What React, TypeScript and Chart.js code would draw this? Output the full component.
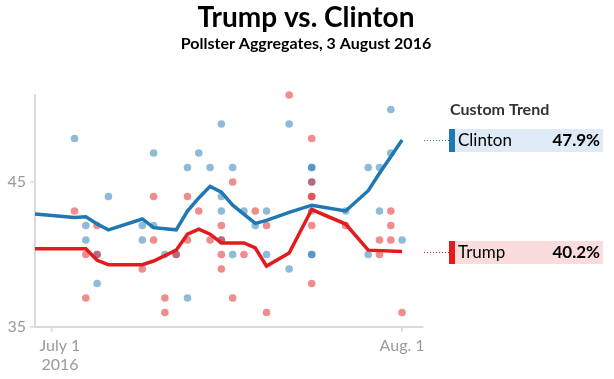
import React, { useEffect, useRef } from "react";
import { Chart, registerables } from "chart.js";

Chart.register(...registerables);

// Days are counted from July 1, 2016 (= 0)
const clintonPollDays = [2, 3, 3, 4, 4, 5, 8, 8, 9, 9, 10, 11, 12, 12, 13, 14, 15, 15, 15, 15, 16, 16, 17, 18, 19, 19, 21, 21, 23, 23, 23, 23, 23, 23, 26, 28, 28, 29, 29, 30, 30, 31];
const clintonPollValues = [48, 42, 41, 40, 38, 44, 42, 41, 47, 42, 40, 40, 46, 37, 47, 46, 49, 44, 43, 41, 46, 40, 43, 42, 43, 40, 49, 39, 46, 46, 45, 43, 40, 40, 43, 46, 40, 46, 43, 50, 47, 41];

const trumpPollDays = [2, 3, 3, 4, 4, 8, 9, 9, 10, 10, 11, 12, 12, 13, 14, 15, 15, 15, 15, 16, 16, 17, 18, 19, 19, 21, 23, 23, 23, 23, 23, 23, 26, 29, 29, 30, 30, 30, 31];
const trumpPollValues = [43, 40, 37, 42, 40, 39, 44, 41, 37, 36, 40, 44, 41, 43, 41, 42, 41, 40, 39, 45, 37, 40, 43, 42, 36, 51, 48, 45, 44, 44, 42, 38, 42, 41, 40, 43, 42, 41, 36];

const clintonTrendDays = [-1.5, 2, 3, 4, 5, 8, 9, 11, 12, 13, 14, 15, 16, 18, 19, 21, 23, 26, 28, 29, 31];
const clintonTrendValues = [42.8, 42.55, 42.6, 42.1, 41.7, 42.45, 41.85, 41.7, 43.0, 43.9, 44.7, 44.3, 43.4, 42.15, 42.35, 42.9, 43.4, 43.0, 44.4, 45.6, 47.9];

const trumpTrendDays = [-1.5, 3, 4, 5, 8, 9, 11, 12, 13, 14, 15, 17, 18, 19, 21, 23, 26, 28, 31];
const trumpTrendValues = [40.4, 40.4, 39.6, 39.3, 39.3, 39.55, 40.3, 41.4, 41.75, 41.4, 40.8, 40.8, 40.45, 39.2, 40.1, 43.1, 42.1, 40.3, 40.2];

const xTickDays = [0, 31];
const xTickLabels = [["July 1", "2016"], ["Aug. 1"]];
const yTickValues = [35, 45];

const titleText = "Trump vs. Clinton";
const subtitleText = "Pollster Aggregates, 3 August 2016";
const legendTitle = "Custom Trend";
const seriesNames = ["Clinton", "Trump"];

const BLUE = "#1f77b4";
const RED = "#e41a1c";
const BLUE_DOT = "rgba(31,119,180,0.5)";
const RED_DOT = "rgba(228,26,28,0.5)";
const BLUE_BG = "#deeaf5";
const RED_BG = "#fbdcdc";
const AXIS = "#dadada";
const TICK_TEXT = "#9c9a98";

const zip = (xs: number[], ys: number[]) => xs.map((x, i) => ({ x, y: ys[i] }));

const overlayPlugin = {
  id: "overlay",
  afterDraw(chart: any) {
    const { ctx, chartArea, scales } = chart;
    ctx.save();
    // Titles
    ctx.fillStyle = "#000";
    ctx.textAlign = "center";
    ctx.textBaseline = "alphabetic";
    ctx.font = "bold 28px Lato";
    ctx.fillText(titleText, 306, 27);
    ctx.font = "bold 16px Lato";
    ctx.fillText(subtitleText, 306, 49);

    // X tick labels
    ctx.fillStyle = TICK_TEXT;
    ctx.font = "16px Lato";
    xTickDays.forEach((d, i) => {
      const lines = xTickLabels[i];
      const shift = i === 0 ? 8 : 0;
      const px = scales.x.getPixelForValue(d) + shift;
      lines.forEach((line, j) => {
        ctx.fillText(line, px, 351 + j * 19);
      });
    });

    // Legend
    ctx.textAlign = "left";
    ctx.fillStyle = "#333";
    ctx.font = "bold 16px Lato";
    ctx.fillText(legendTitle, 450, 115);

    const lasts = [
      clintonTrendValues[clintonTrendValues.length - 1],
      trumpTrendValues[trumpTrendValues.length - 1],
    ];
    const colors = [BLUE, RED];
    const bgs = [BLUE_BG, RED_BG];
    lasts.forEach((v, i) => {
      const y = Math.round(scales.y.getPixelForValue(v));
      ctx.strokeStyle = colors[i];
      ctx.lineWidth = 1;
      ctx.setLineDash([1, 2]);
      ctx.beginPath();
      ctx.moveTo(chartArea.right + 1, y + 0.5);
      ctx.lineTo(449, y + 0.5);
      ctx.stroke();
      ctx.setLineDash([]);
      ctx.fillStyle = bgs[i];
      ctx.fillRect(449, y - 11, 154, 23);
      ctx.fillStyle = colors[i];
      ctx.fillRect(449, y - 11, 6, 23);
      ctx.fillStyle = "#000";
      ctx.textBaseline = "middle";
      ctx.textAlign = "left";
      ctx.font = "17px Lato";
      ctx.fillText(seriesNames[i], 458, y + 1);
      ctx.textAlign = "right";
      ctx.font = "bold 17px Lato";
      ctx.fillText(v.toFixed(1) + "%", 600, y + 1);
    });
    ctx.restore();
  },
};

export default function App() {
  const ref = useRef<HTMLCanvasElement>(null);
  useEffect(() => {
    const chart = new Chart(ref.current as HTMLCanvasElement, {
      type: "scatter",
      data: {
        datasets: [
          {
            label: "Trump trend",
            data: zip(trumpTrendDays, trumpTrendValues),
            showLine: true,
            borderColor: RED,
            borderWidth: 3.5,
            pointRadius: 0,
            tension: 0,
            order: 0,
          },
          {
            label: "Clinton trend",
            data: zip(clintonTrendDays, clintonTrendValues),
            showLine: true,
            borderColor: BLUE,
            borderWidth: 3.5,
            pointRadius: 0,
            tension: 0,
            order: 1,
          },
          {
            label: "Trump polls",
            data: zip(trumpPollDays, trumpPollValues),
            backgroundColor: RED_DOT,
            borderWidth: 0,
            pointRadius: 3.8,
            clip: false,
            order: 2,
          },
          {
            label: "Clinton polls",
            data: zip(clintonPollDays, clintonPollValues),
            backgroundColor: BLUE_DOT,
            borderWidth: 0,
            pointRadius: 3.8,
            clip: false,
            order: 3,
          },
        ],
      },
      options: {
        animation: false,
        responsive: false,
        layout: { padding: { left: 0, right: 191, top: 95, bottom: 0 } },
        plugins: {
          legend: { display: false },
          tooltip: { enabled: false },
          title: { display: false },
        },
        scales: {
          x: {
            type: "linear",
            min: -1.5,
            max: 32.85,
            afterBuildTicks: (s: any) => {
              s.ticks = xTickDays.map((v) => ({ value: v }));
            },
            afterFit: (s: any) => {
              s.height = 52;
            },
            ticks: { display: false },
            grid: {
              drawOnChartArea: false,
              drawTicks: true,
              tickLength: 5,
              color: AXIS,
              lineWidth: 1.5,
            },
            border: { color: AXIS, width: 2 },
          },
          y: {
            min: 35,
            max: 51,
            afterBuildTicks: (s: any) => {
              s.ticks = yTickValues.map((v) => ({ value: v }));
            },
            afterFit: (s: any) => {
              s.width = 35;
            },
            ticks: {
              color: TICK_TEXT,
              font: { family: "Lato", size: 16 },
              padding: 4,
            },
            grid: {
              drawOnChartArea: false,
              drawTicks: true,
              tickLength: 5,
              color: AXIS,
              lineWidth: 1.5,
            },
            border: { color: AXIS, width: 2 },
          },
        },
      },
      plugins: [overlayPlugin],
    } as any);
    return () => chart.destroy();
  }, []);
  return (
    <div style={{ position: "absolute", left: 0, top: 0, width: 614, height: 379 }}>
      <canvas ref={ref} width={614} height={379} />
    </div>
  );
}
